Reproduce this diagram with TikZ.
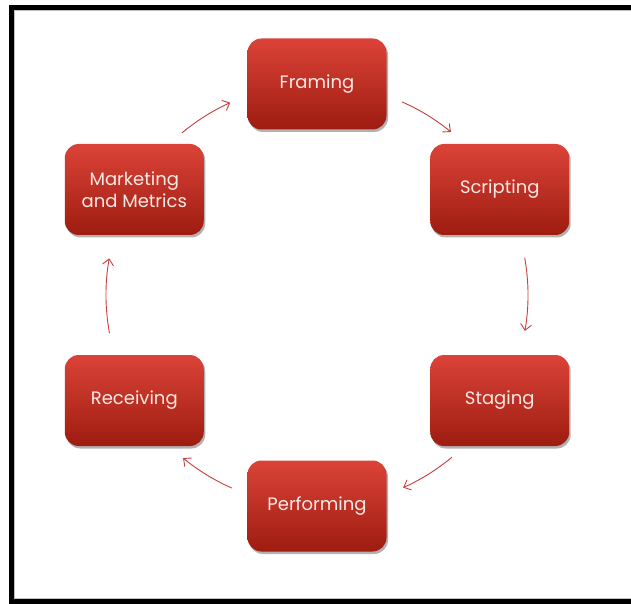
\documentclass[tikz,border=0pt]{standalone}
\usepackage{fontspec}
\setmainfont{Poppins}
\usetikzlibrary{arrows.meta,shadows,calc}
\definecolor{boxtop}{RGB}{219,67,56}
\definecolor{boxbot}{RGB}{158,28,16}
\definecolor{arrowred}{RGB}{200,62,60}
\definecolor{boxtext}{RGB}{250,234,230}
\begin{document}
\begin{tikzpicture}[x=1pt,y=1pt,
  stage/.style={rounded corners=14pt, minimum width=139pt, minimum height=91pt,
    inner sep=0pt, align=center, shading=axis, top color=boxtop, bottom color=boxbot,
    text=boxtext, font=\fontsize{18}{21.5}\selectfont,
    drop shadow={shadow xshift=1.5pt, shadow yshift=-2.5pt, fill=black, opacity=0.3}},
  cyc/.style={draw=arrowred, line width=0.9pt, line cap=round,
    -{Straight Barb[length=6pt,width=11pt,line width=0.9pt]}}
]
\useasboundingbox (0,0) rectangle (631,603);

% outer frame, running off the right edge
\begin{scope}
  \clip (0,0) rectangle (631,603);
  \draw[line width=5pt] (11,1.5) rectangle (660,595.5);
  \draw[black!25, line width=0.8pt] (13.9,4.4) rectangle (660,592.6);
\end{scope}

% hub of the cycle
\coordinate (hub) at (317,308);

\path (hub) ++(90:211)  node[stage] (framing)    {Framing};
\path (hub) ++(30:211)  node[stage] (scripting)  {Scripting};
\path (hub) ++(-30:211) node[stage] (staging)    {Staging};
\path (hub) ++(-90:211) node[stage] (performing) {Performing};
\path (hub) ++(210:211) node[stage] (receiving)  {Receiving};
\path (hub) ++(150:211) node[stage] (marketing)  {Marketing\\and Metrics};

% connecting arcs around the hub
\foreach \i/\a/\b in {1/66.2/50.6, 2/10.1/-9.8, 3/-50.3/-65.9,
                      4/-113.9/-129.4, 5/-169.7/-190, 6/129.8/114.3} {
  \pgfmathsetmacro\h{(\a-\b)/2}
  \path (hub) ++(\a:211) coordinate (s\i);
  \path (hub) ++(\b:211) coordinate (e\i);
  \draw[cyc] (s\i) to[bend left=\h, looseness=0.86] (e\i);
}
\end{tikzpicture}
\end{document}
